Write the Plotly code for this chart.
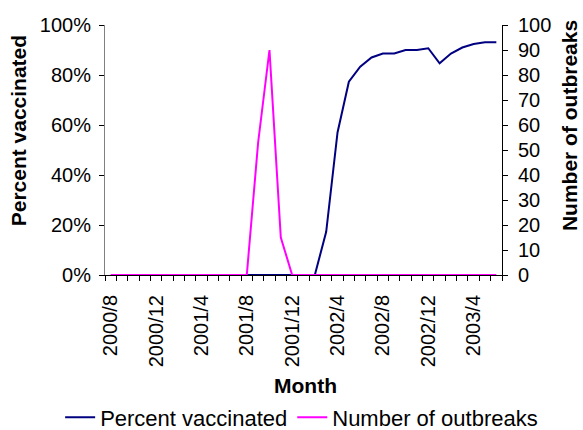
import plotly.graph_objects as go

months = ['2000/8', '2000/9', '2000/10', '2000/11', '2000/12',
          '2001/1', '2001/2', '2001/3', '2001/4', '2001/5', '2001/6', '2001/7', '2001/8',
          '2001/9', '2001/10', '2001/11', '2001/12',
          '2002/1', '2002/2', '2002/3', '2002/4', '2002/5', '2002/6', '2002/7', '2002/8',
          '2002/9', '2002/10', '2002/11', '2002/12',
          '2003/1', '2003/2', '2003/3', '2003/4', '2003/5', '2003/6']

pct_vaccinated = [None, None, None, None, None, None, None, None, None, None,
                  0, 0, 0, 0, 0, 0, 0, 0, 0,
                  17.3, 57, 77.3, 83.3, 87, 88.6, 88.6, 90, 90, 90.7,
                  84.7, 88.6, 91, 92.4, 93.1, 93.1]

n_outbreaks = [0, 0, 0, 0, 0, 0, 0, 0, 0, 0, 0, 0,
               0, 53, 90, 15, 0,
               0, 0, 0, 0, 0, 0, 0, 0, 0, 0, 0, 0, 0, 0, 0, 0, 0, 0]

tick_labels = ['2000/8', '2000/12', '2001/4', '2001/8', '2001/12', '2002/4', '2002/8', '2002/12', '2003/4']

FONT = 'Liberation Sans, Arial, sans-serif'
NAVY = '#000080'
PINK = '#FF00FF'

x_idx = list(range(len(months)))
tick_pos = [months.index(m) for m in tick_labels]

fig = go.Figure()
fig.add_trace(go.Scatter(x=x_idx, y=pct_vaccinated, name='Percent vaccinated', mode='lines',
                         line=dict(color=NAVY, width=2), yaxis='y'))
fig.add_trace(go.Scatter(x=x_idx, y=n_outbreaks, name='Number of outbreaks', mode='lines',
                         line=dict(color=PINK, width=2), yaxis='y2'))

title_font = dict(family=FONT, size=21, color='black')
fig.update_layout(
    width=583, height=430,
    margin=dict(l=105, r=81, t=25, b=155, autoexpand=False),
    paper_bgcolor='white', plot_bgcolor='white',
    font=dict(family=FONT, size=20, color='black'),
    showlegend=True,
    legend=dict(orientation='h', x=-0.113, xanchor='left', y=-0.57, yanchor='middle',
                font=dict(size=22), tracegroupgap=0, itemwidth=30),
    xaxis=dict(range=[-0.5, len(months) - 0.5], tickmode='array', tickvals=tick_pos, ticktext=tick_labels,
               tickangle=-90, ticks='', showgrid=False, zeroline=False, automargin=False,
               showline=True, linecolor='black', linewidth=1, ticklabelstandoff=11,
               minor=dict(tickmode='array', tickvals=[i - 0.5 for i in range(len(months) + 1)],
                          ticks='outside', ticklen=5, tickcolor='black', showgrid=False)),
    yaxis=dict(range=[0, 100], dtick=20, ticksuffix='%', showgrid=False, zeroline=False, automargin=False,
               showline=True, linecolor='#808080', linewidth=1,
               ticks='outside', ticklen=5, tickcolor='black', ticklabelstandoff=4),
    yaxis2=dict(range=[0, 100], dtick=10, overlaying='y', side='right', showgrid=False, zeroline=False,
                automargin=False, showline=True, linecolor='black', linewidth=1,
                ticks='outside', ticklen=5, tickcolor='black', ticklabelstandoff=6),
    annotations=[
        dict(text='<b>Month</b>', x=0.504, y=-0.44, xref='paper', yref='paper',
             xanchor='center', yanchor='middle', showarrow=False, font=title_font),
        dict(text='<b>Percent vaccinated</b>', x=-0.219, y=0.575, xref='paper', yref='paper',
             xanchor='center', yanchor='middle', showarrow=False, textangle=-90, font=title_font),
        dict(text='<b>Number of outbreaks</b>', x=1.169, y=0.596, xref='paper', yref='paper',
             xanchor='center', yanchor='middle', showarrow=False, textangle=-90, font=title_font),
    ],
)

# drop the page's default body margin so the figure sits at the window's corner
fig.write_html("out.html", config={'displayModeBar': False},
               post_script="document.body.style.margin='0';document.body.style.overflow='hidden';")
